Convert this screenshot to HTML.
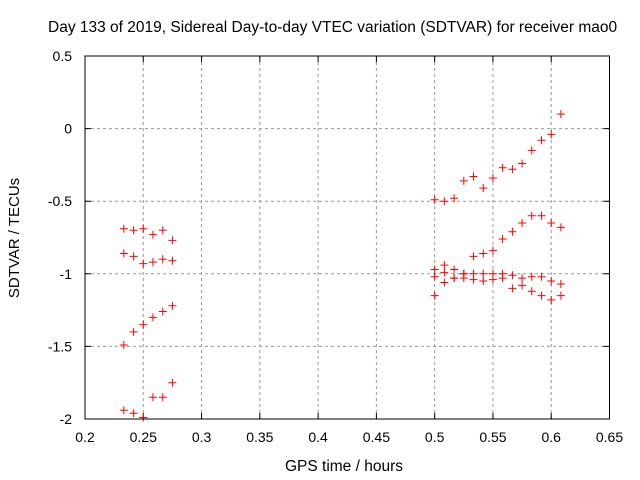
<!DOCTYPE html>
<html><head><meta charset="utf-8"><style>
body{margin:0;background:#fff}
svg{display:block;font-family:"Liberation Sans",sans-serif;font-size:14px}
</style></head><body>
<svg id="chart" width="640" height="480">
<text x="48" y="32" text-anchor="start" style="font-size:15.5px">Day 133 of 2019, Sidereal Day-to-day VTEC variation (SDTVAR) for receiver mao0</text>
<text transform="translate(19,238) rotate(-90)" text-anchor="middle" style="font-size:15px">SDTVAR / TECUs</text>
<text x="344" y="471" text-anchor="middle" style="font-size:15.5px">GPS time / hours</text>
<g id="grid"></g><g id="ticks"></g><g id="marks"></g>
<rect x="85" y="56" width="524.5" height="363" fill="none" stroke="#000"/>
</svg>
<script>
const xTicks=[0.2,0.25,0.3,0.35,0.4,0.45,0.5,0.55,0.6,0.65];
const yTicks=[0.5,0,-0.5,-1,-1.5,-2];
const xLeft=[0.2333,0.2417,0.25,0.2583,0.2667,0.275];
const xRight=[0.5,0.5083,0.5167,0.525,0.5333,0.5417,0.55,0.5583,0.5667,0.575,0.5833,0.5917,0.6,0.6083];
const left1=[-0.69,-0.70,-0.69,-0.73,-0.70,-0.77];
const left2=[-0.86,-0.88,-0.93,-0.92,-0.90,-0.91];
const left3=[-1.49,-1.40,-1.35,-1.30,-1.26,-1.22];
const left4=[-1.94,-1.96,-1.99,-1.85,-1.85,-1.75];
const rightA=[-0.49,-0.50,-0.48,-0.36,-0.33,-0.41,-0.34,-0.27,-0.28,-0.24,-0.15,-0.08,-0.04,0.10];
const rightB=[-0.97,-0.94,-0.97,-1.00,-0.88,-0.86,-0.84,-0.76,-0.71,-0.65,-0.60,-0.60,-0.65,-0.68];
const rightC=[-1.02,-0.99,-1.03,-1.00,-1.00,-1.00,-1.00,-1.00,-1.01,-1.03,-1.02,-1.02,-1.05,-1.07];
const rightD=[-1.15,-1.06,-1.03,-1.03,-1.04,-1.05,-1.04,-1.03,-1.10,-1.08,-1.12,-1.15,-1.18,-1.15];
const X=v=>85+(v-0.2)/0.45*524.5;
const Y=v=>56+(0.5-v)/2.5*363;
const NS="http://www.w3.org/2000/svg";
function mk(tag,attrs,parent,txt){const e=document.createElementNS(NS,tag);for(const k in attrs)e.setAttribute(k,attrs[k]);if(txt!==undefined)e.textContent=txt;document.getElementById(parent).appendChild(e);return e;}
xTicks.forEach(t=>{const x=X(t);
 if(t>0.2&&t<0.65){const g=mk('line',{x1:x,x2:x,y1:56,y2:419,stroke:'#999','stroke-dasharray':'3,3'},'grid');
 
 }
 const tk=mk('path',{d:`M${x},419v-6M${x},56v6`,stroke:'#000'},'ticks');
 
 
 const l=mk('text',{x:x,y:442,'text-anchor':'middle'},'ticks',String(t));
 
 
});
yTicks.forEach(t=>{const y=Y(t);
 if(t<0.5&&t>-2){const g=mk('line',{x1:85,x2:609.5,y1:y,y2:y,stroke:'#999','stroke-dasharray':'3,3'},'grid');
 
 }
 const tk=mk('path',{d:`M85,${y}h6M609.5,${y}h-6`,stroke:'#000'},'ticks');
 
 
 const l=mk('text',{x:72,y:y+5,'text-anchor':'end'},'ticks',String(t));
 
 
});
function series(xs,ys){xs.forEach((xv,i)=>{const x=X(xv),y=Y(ys[i]);
 const p=mk('path',{d:`M${x-4},${y}h8M${x},${y-4}v8`,stroke:'#f00','stroke-width':1},'marks');
 
 });}
[left1,left2,left3,left4].forEach(s=>series(xLeft,s));
[rightA,rightB,rightC,rightD].forEach(s=>series(xRight,s));
</script>
</body></html>
